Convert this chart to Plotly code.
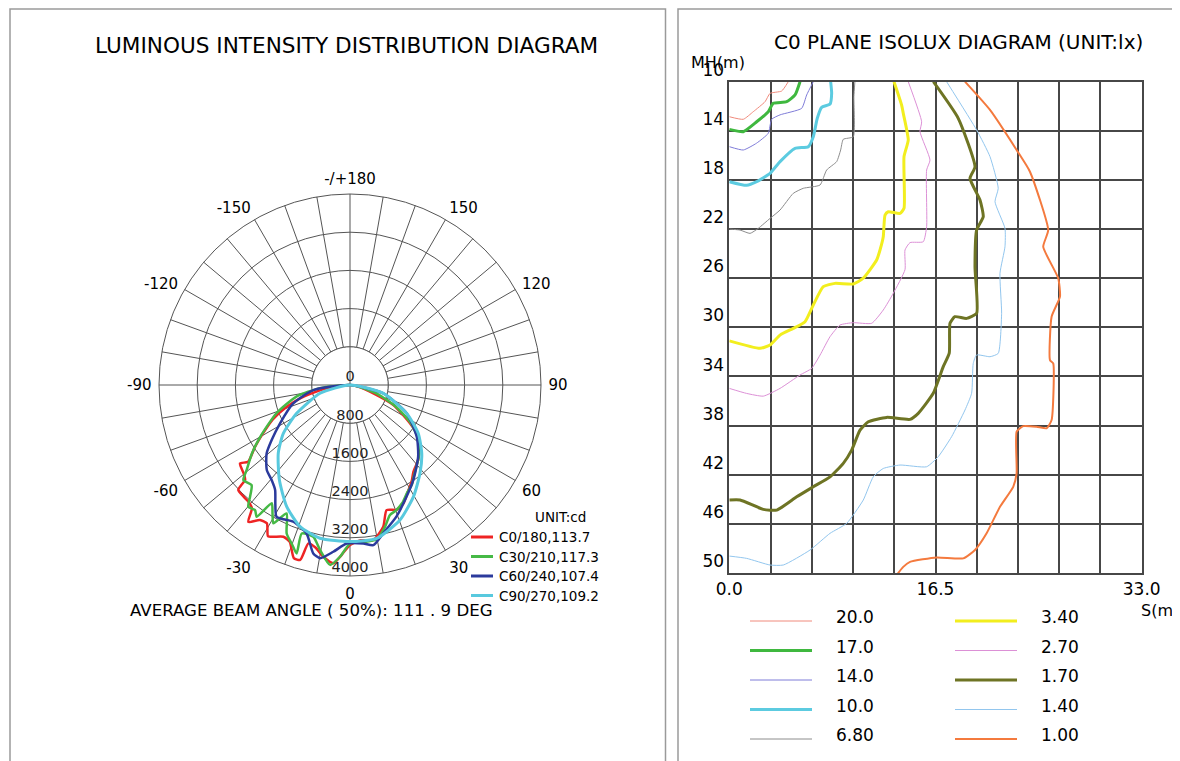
import plotly.graph_objects as go

W, H = 1180, 761
OFF = 8  # the page body margin pushes the figure 8px right and down
FONT = "DejaVu Sans"
GRID = "#555555"
ISO_GRID = "#474747"

# ---- luminous intensity distribution (gamma angle in deg, intensity in cd)
c0_theta = [-90, -84, -80, -75, -71, -66, -61, -57, -53, -54.5, -50, -47.9, -46.8, -43.5, -41, -38.5,
            -36.6, -33.7, -31, -28.5, -26.8, -23.7, -21, -18, -15.9, -14.7, -12, -8.8, -5.3, -2.8, 0,
            4, 8.6, 13.2, 16.3, 20.5, 24.3, 28, 32.5, 36.2, 42.3, 47.5, 52.9, 57.4, 65.2, 70.3, 80, 90]
c0_r = [0, 380, 640, 1080, 1400, 1770, 2080, 2370, 2670, 2830, 2900, 2960, 3210, 3230, 3240, 3300,
        3570, 3400, 3380, 3600, 3560, 3470, 3520, 3810, 3810, 3430, 3480, 3640, 3750, 3560, 3350,
        3260, 3280, 3050, 2730, 2790, 2720, 2560, 2400, 2250, 2120, 1950, 1790, 1490, 1000, 520, 150, 0]

c30_theta = [-90, -84, -78, -69, -60, -55, -50.6, -48.3, -44.5, -41.8, -39.9, -37.2, -35.3, -33.5, -31,
             -29, -26.3, -23.1, -20, -17.6, -18, -13.6, -10.3, -6.3, -3.3, 0, 5, 10, 14, 17, 20, 24,
             28, 32, 35, 40, 45, 52, 58, 65, 72, 80, 90]
c30_r = [0, 630, 1140, 1650, 2170, 2510, 2800, 2990, 2940, 3140, 3320, 3290, 3380, 2970, 3150,
         3310, 3000, 3380, 3550, 3700, 3270, 3270, 3510, 3790, 3600, 3320, 3300, 3280, 3050, 2850,
         2800, 2700, 2550, 2450, 2330, 2180, 2050, 1800, 1500, 1050, 600, 180, 0]

c60_theta = [-90, -82, -72, -61.3, -54.9, -50.6, -44.4, -39.5, -35.5, -32, -29.1, -22.5, -16.3, -12.3,
             -9.8, -5.7, -1.2, 4.8, 8.3, 12.7, 19.5, 26.9, 33.7, 43.6, 52.2, 63.4, 76, 90]
c60_r = [0, 775, 1250, 1670, 2005, 2260, 2490, 2580, 2700, 2950, 3160, 3100, 3240, 3610,
         3680, 3510, 3320, 3330, 3390, 3180, 2920, 2620, 2390, 2070, 1770, 1330, 720, 0]

c90_theta = [-90, -74.5, -62, -54, -46.4, -36.6, -27.5, -19.4, -11.1, 0, 9.9, 20.3, 29.6, 38.4,
             46.4, 54.7, 63.4, 76, 90]
c90_r = [0, 650, 1265, 1725, 2075, 2480, 2870, 3145, 3270, 3280, 3260, 3015, 2690, 2360,
         2075, 1750, 1330, 720, 0]

polar_names = ["C0/180,113.7", "C30/210,117.3", "C60/240,107.4", "C90/270,109.2"]
polar_colors = ["#ee2424", "#46b946", "#2b3a9c", "#58c9de"]
radial_ticks = [800, 1600, 2400, 3200, 4000]

# ---- C0 plane isolux (S in m, MH in m)
iso_20_s = [4.72, 4.19, 3.26, 2.86, 1.92, 1.12, 0.0]
iso_20_mh = [10.0, 10.76, 10.95, 11.63, 12.44, 13.06, 12.85]
iso_17_s = [5.66, 5.26, 4.59, 3.52, 3.12, 2.19, 1.12, 0.0]
iso_17_mh = [10.0, 11.08, 11.63, 11.76, 12.44, 13.26, 14.07, 13.88]
iso_14_s = [6.72, 6.19, 5.79, 4.06, 3.39, 3.12, 2.19, 1.12, 0.0]
iso_14_mh = [10.0, 11.08, 12.17, 12.7, 13.06, 14.2, 15.0, 15.56, 15.29]
iso_10_s = [8.11, 8.19, 8.06, 7.39, 7.04, 6.72, 6.32, 5.26, 4.06, 3.26, 2.19, 1.39, 0.0]
iso_10_mh = [10.0, 10.95, 11.82, 12.09, 12.98, 14.48, 15.29, 15.43, 16.51, 17.46, 18.14, 18.44, 18.14]
iso_68_s = [10.05, 9.97, 9.92, 9.12, 8.91, 8.59, 7.79, 7.26, 5.92, 5.12, 4.06, 3.26, 2.32, 1.66, 0.86, 0.0]
iso_68_mh = [10.0, 11.22, 14.48, 14.69, 15.56, 16.51, 17.19, 18.41, 18.68, 19.09, 20.45, 21.13,
             21.94, 22.35, 22.08, 22.0]
iso_34_s = [13.18, 13.79, 13.92, 14.32, 13.98, 13.98, 13.66, 12.72, 12.46, 12.32, 12.06, 11.79,
            10.72, 9.92, 8.46, 7.52, 6.72, 6.06, 5.12, 4.06, 3.26, 2.46, 0.0]
iso_34_mh = [10.0, 11.9, 12.57, 14.75, 16.1, 20.31, 20.72, 20.59, 20.86, 22.62, 23.7, 24.52,
             26.0, 26.47, 26.42, 26.69, 28.18, 29.54, 30.08, 30.63, 31.44, 31.71, 31.1]
iso_27_s = [14.32, 15.39, 15.26, 16.06, 15.79, 15.79, 15.52, 14.46, 14.06, 14.06, 13.12, 12.32,
            11.39, 9.92, 8.86, 8.06, 7.26, 6.59, 5.66, 4.06, 2.72, 1.39, 0.0]
iso_27_mh = [10.0, 13.26, 14.07, 16.38, 17.19, 21.8, 23.03, 23.1, 23.7, 25.3, 27.23, 28.59,
             29.67, 29.62, 29.81, 30.76, 32.26, 33.34, 33.88, 34.97, 35.6, 35.38, 34.97]
iso_17b_s = [16.33, 18.32, 19.66, 19.26, 20.06, 20.32, 19.79, 19.66, 19.79, 18.99, 18.05, 17.66,
             17.6, 17.12, 16.32, 15.12, 14.46, 12.59, 11.12, 10.46, 9.79, 9.12, 8.06, 6.72, 5.39,
             3.79, 2.72, 0.86, 0.0]
iso_17b_mh = [10.0, 12.98, 16.92, 17.87, 19.63, 21.0, 22.08, 25.06, 28.86, 29.27, 29.13, 29.67,
              32.1, 33.2, 35.37, 37.0, 37.49, 37.33, 37.69, 38.37, 40.0, 41.08, 42.17, 42.98, 43.8,
              44.88, 44.82, 44.06, 44.06]
iso_14b_s = [17.39, 19.79, 20.86, 21.52, 21.26, 22.06, 22.06, 21.66, 21.79, 21.52, 20.86, 19.79,
             19.52, 19.39, 18.86, 17.79, 16.72, 15.79, 13.66, 12.32, 11.52, 10.72, 9.39, 8.06, 6.46,
             4.32, 3.26, 1.39, 0.0]
iso_14b_mh = [10.0, 13.93, 16.1, 18.68, 19.77, 21.94, 23.44, 25.6, 28.86, 32.12, 32.39, 32.25,
              32.93, 35.37, 36.73, 38.9, 40.53, 41.35, 41.21, 41.49, 42.17, 44.06, 45.96, 46.77,
              48.13, 49.35, 49.35, 48.81, 48.62]
iso_10b_s = [18.86, 20.86, 22.99, 24.06, 25.52, 25.12, 26.32, 26.46, 25.79, 25.66, 25.92, 25.79,
             25.39, 24.59, 23.52, 22.99, 22.99, 22.72, 21.66, 20.59, 19.66, 18.72, 16.59, 14.46,
             13.92, 13.39]
iso_10b_mh = [10.0, 12.3, 15.56, 17.33, 22.08, 23.44, 26.0, 27.5, 29.13, 32.66, 32.93, 37.55,
              38.22, 38.09, 38.04, 38.5, 41.89, 42.98, 44.61, 46.77, 48.13, 48.81, 48.73, 49.09,
              49.5, 50.17]

iso_levels = ["20.0", "17.0", "14.0", "10.0", "6.80", "3.40", "2.70", "1.70", "1.40", "1.00"]
iso_colors = ["#f08a7c", "#3fb83f", "#7f7cd8", "#5ccbe0", "#8c8c8c",
              "#f2ee1e", "#dc90d6", "#6e7424", "#92c6ee", "#f47a3e"]
iso_widths = [1, 3, 1, 3, 1, 3, 1, 3, 1, 2]
iso_s = [iso_20_s, iso_17_s, iso_14_s, iso_10_s, iso_68_s,
         iso_34_s, iso_27_s, iso_17b_s, iso_14b_s, iso_10b_s]
iso_mh = [iso_20_mh, iso_17_mh, iso_14_mh, iso_10_mh, iso_68_mh,
          iso_34_mh, iso_27_mh, iso_17b_mh, iso_14b_mh, iso_10b_mh]

s_ticks = [round(3.3 * i, 1) for i in range(11)]
s_labels = {0.0: "0.0", 16.5: "16.5", 33.0: "33.0"}
mh_ticks = list(range(10, 51, 4))


def px(x):
    return (x - OFF) / W


def py(y):
    return 1 - (y - OFF) / H


def text(x, y, s, size, xanchor="center", yanchor="middle"):
    return dict(x=px(x), y=py(y), xref="paper", yref="paper", text=s, showarrow=False,
                xanchor=xanchor, yanchor=yanchor,
                font=dict(family=FONT, size=size, color="black"))


fig = go.Figure()

# blank inner circle of the polar grid, then the two main axes through it
ring = radial_ticks[0]
fig.add_trace(go.Scatterpolar(
    r=[ring] * 73, theta=list(range(0, 365, 5)), mode="lines", fill="toself",
    fillcolor="white", line=dict(color=GRID, width=1), hoverinfo="skip", showlegend=False))
for a in (0, 90):
    fig.add_trace(go.Scatterpolar(
        r=[ring, ring], theta=[a, a + 180], mode="lines",
        line=dict(color=GRID, width=1), hoverinfo="skip", showlegend=False))

for th, rr, name, col in zip([c0_theta, c30_theta, c60_theta, c90_theta],
                             [c0_r, c30_r, c60_r, c90_r], polar_names, polar_colors):
    fig.add_trace(go.Scatterpolar(
        r=rr, theta=th, mode="lines", name=name,
        line=dict(color=col, width=3 if col == polar_colors[3] else 2.5, shape="spline", smoothing=0.6),
        showlegend=False))

fig.add_trace(go.Scatterpolar(
    r=[0] + radial_ticks, theta=[0] * 6, mode="text",
    text=[str(v) for v in [0] + radial_ticks], textposition="top center",
    textfont=dict(family=FONT, size=14.5, color="#222"), hoverinfo="skip", showlegend=False))

# isolux lines
for s, mh, col, wd in zip(iso_s, iso_mh, iso_colors, iso_widths):
    fig.add_trace(go.Scatter(
        x=s, y=mh, mode="lines", line=dict(color=col, width=wd, shape="spline", smoothing=0.5),
        showlegend=False, hoverinfo="skip"))

ang_ticks = list(range(0, 360, 10))
ang_text = []
for v in ang_ticks:
    if v % 30:
        ang_text.append("")
    elif v == 180:
        ang_text.append("-/+180")
    elif v > 180:
        ang_text.append(str(v - 360))
    else:
        ang_text.append(str(v))

shapes = [
    dict(type="rect", xref="paper", yref="paper", x0=px(10), x1=px(665.5), y0=-0.03, y1=py(9),
         line=dict(color="#9a9a9a", width=1.5)),
    dict(type="rect", xref="paper", yref="paper", x0=px(678), x1=1.03, y0=-0.03, y1=py(9),
         line=dict(color="#9a9a9a", width=1.5)),
]
annotations = [
    text(346, 46, "LUMINOUS INTENSITY DISTRIBUTION DIAGRAM", 21.6),
    text(958, 42, "C0 PLANE ISOLUX DIAGRAM (UNIT:lx)", 20),
    text(311, 610, "AVERAGE BEAM ANGLE ( 50%): 111 . 9 DEG", 16.6),
    text(588, 517, "UNIT:cd", 13.5, xanchor="right"),
    text(718, 62, "MH(m)", 16),
    text(1160, 610, "S(m)", 16),
]

# legend of the polar diagram
for i, (name, col) in enumerate(zip(polar_names, polar_colors)):
    y = 537 + i * 19.5
    shapes.append(dict(type="line", xref="paper", yref="paper", x0=px(471), x1=px(493),
                       y0=py(y), y1=py(y), line=dict(color=col, width=3)))
    annotations.append(text(497, y, name, 13.5, xanchor="left"))

# legend of the isolux diagram
for i, (lev, col, wd) in enumerate(zip(iso_levels, iso_colors, iso_widths)):
    col_i, row_i = divmod(i, 5)
    x0 = 750 + col_i * 205
    y = 621 + row_i * 29.5
    shapes.append(dict(type="line", xref="paper", yref="paper", x0=px(x0), x1=px(x0 + 62),
                       y0=py(y), y1=py(y), line=dict(color=col, width=wd)))
    annotations.append(text(x0 + 84, y - 4, lev, 17, xanchor="left"))

fig.update_layout(
    width=W, height=H,
    margin=dict(l=0, r=0, t=0, b=0, autoexpand=False),
    paper_bgcolor="white", plot_bgcolor="white",
    font=dict(family=FONT, color="black"),
    showlegend=False,
    polar=dict(
        domain=dict(x=[px(159), px(541)], y=[py(577), py(193)]),
        bgcolor="white",
        angularaxis=dict(rotation=270, direction="counterclockwise", tickmode="array",
                         tickvals=ang_ticks, ticktext=ang_text, ticks="outside", ticklen=4,
                         tickcolor="rgba(0,0,0,0)",
                         gridcolor=GRID, gridwidth=1, showline=True, linecolor=GRID, linewidth=1,
                         tickfont=dict(family=FONT, size=15, color="black")),
        radialaxis=dict(range=[0, 4000], tickvals=radial_ticks, showticklabels=False, ticks="",
                        gridcolor=GRID, gridwidth=1, showline=False),
    ),
    xaxis=dict(domain=[px(729.3), px(1141.7)], range=[0, 33], tickmode="array", tickvals=s_ticks,
               ticktext=[s_labels.get(v, "") for v in s_ticks], showgrid=True, gridcolor=ISO_GRID,
               gridwidth=1.5, zeroline=False, showline=True, mirror=True, linecolor=ISO_GRID,
               linewidth=1.5, ticks="", automargin=False,
               tickfont=dict(family=FONT, size=17, color="black")),
    yaxis=dict(domain=[py(573), py(81.7)], range=[50, 10], tickmode="array", tickvals=mh_ticks,
               showgrid=True, gridcolor=ISO_GRID, gridwidth=1.5, zeroline=False, showline=True,
               mirror=True, linecolor=ISO_GRID, linewidth=1.5, ticks="", ticklabelposition="outside top",
               automargin=False, tickfont=dict(family=FONT, size=17, color="black")),
    shapes=shapes,
    annotations=annotations,
)

fig.write_html("out.html")
